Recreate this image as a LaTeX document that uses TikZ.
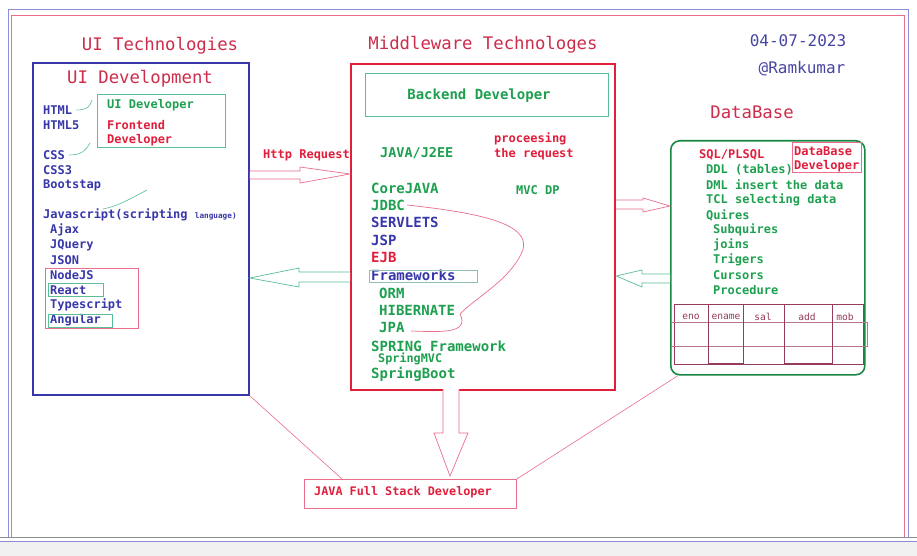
\documentclass[tikz,border=0pt]{standalone}
\usepackage{fontspec}
\setmonofont{DejaVu Sans Mono}
\definecolor{cblue}{RGB}{55,55,170}
\definecolor{cdate}{RGB}{70,70,165}
\definecolor{cred}{RGB}{225,30,60}
\definecolor{ctitle}{RGB}{205,45,75}
\definecolor{cgreen}{RGB}{30,160,80}
\definecolor{cpink}{RGB}{235,110,140}
\definecolor{cteal}{RGB}{90,190,150}
\definecolor{cmaroon}{RGB}{150,60,90}
\definecolor{cframe}{RGB}{140,140,215}
\newcommand\myfs[1]{\fontsize{#1}{#1}\selectfont}
\tikzset{
  txt/.style={anchor=west,inner sep=0pt,font=\ttfamily\bfseries\myfs{12}},
  bt/.style={txt,text=cblue},
  gt/.style={txt,text=cgreen},
  rt/.style={txt,text=cred},
  mb/.style={txt,text=cblue,font=\ttfamily\bfseries\myfs{14}},
  mg/.style={txt,text=cgreen,font=\ttfamily\bfseries\myfs{14}},
  mr/.style={txt,text=cred,font=\ttfamily\bfseries\myfs{14}},
  title/.style={inner sep=0pt,text=ctitle,font=\ttfamily\myfs{17.3}},
  boxr/.style={draw,anchor=north west,inner sep=0pt},
  th/.style={inner sep=0pt,text=cmaroon,font=\ttfamily\myfs{9.6}},
}
\begin{document}
\begin{tikzpicture}[x=1pt,y=-1pt]
\useasboundingbox (0,0) rectangle (917,556);
\fill[white] (0,0) rectangle (917,556);
\fill[black!6] (0,541) rectangle (917,556);
\draw[black!45] (0,537) -- (917,537);
\draw[cframe,line width=1.5pt] (0,541.5) -- (917,541.5);
% frame
\draw[cframe,line width=1pt] (8,537) |- (908,10) -- (908,537);
\draw[cpink,line width=0.8pt] (11.5,537) |- (904,15) -- (904,537);

% titles
\node[title] (tui) at (160,46) {UI Technologies};
\node[title] (tmid) at (483,45) {Middleware Technologes};
\node[title] (tdb) at (752,112) {DataBase};
\node[inner sep=0pt,text=cdate,font=\ttfamily\myfs{16}] (date) at (798,41) {04-07-2023};
\node[inner sep=0pt,text=cdate,font=\ttfamily\myfs{16}] (auth) at (802,69) {@Ramkumar};

% UI box
\node[boxr,draw=cblue,line width=1.8pt,minimum width=216pt,minimum height=332pt] (ui) at (32,62) {};
\node[title] (tuid) at (140,79) {UI Development};
\node[boxr,draw=cteal,line width=0.8pt,minimum width=128pt,minimum height=53pt] (uidev) at (97,94) {};
\node[gt] (uidevt) at (107,105) {UI Developer};
\node[rt] (fe1) at (107,125) {Frontend};
\node[rt] (fe2) at (107,140) {Developer};
\node[bt] (html) at (43,110) {HTML};
\node[bt] (html5) at (43,125) {HTML5};
\node[bt] (css) at (43,155) {CSS};
\node[bt] (css3) at (43,170) {CSS3};
\node[bt] (boot) at (43,185) {Bootstap};
\node[bt] (js) at (43,215) {Javascript(scripting \myfs{7.7}language)};
\node[bt] (ajax) at (50,230) {Ajax};
\node[bt] (jq) at (50,245) {JQuery};
\node[bt] (json) at (50,260) {JSON};
\node[bt] (node) at (50,275) {NodeJS};
\node[bt] (react) at (50,290) {React};
\node[bt] (ts) at (50,305) {Typescript};
\node[bt] (ang) at (50,320) {Angular};
\node[boxr,draw=cpink,line width=0.8pt,minimum width=93pt,minimum height=60pt] (fwbox) at (45,268) {};
\node[boxr,draw=cteal,line width=0.8pt,minimum width=55pt,minimum height=13pt] (reactbox) at (48,283) {};
\node[boxr,draw=cteal,line width=0.8pt,minimum width=64pt,minimum height=13pt] (angbox) at (48,314) {};
\draw[cteal,line width=0.6pt] (html.east) ++(4,0) .. controls (88,110) and (90,106) .. (92,100);
\draw[cteal,line width=0.6pt] (css.east) ++(4,0) .. controls (82,155) and (86,150) .. (90,143);
\draw[cteal,line width=0.6pt] (103,209) .. controls (118,206) and (128,200) .. (147,190);

% Middle box
\node[boxr,draw=cred,line width=2.2pt,minimum width=264pt,minimum height=326pt] (mid) at (350,63) {};
\node[boxr,draw=cteal,line width=0.8pt,minimum width=243pt,minimum height=43pt] (bebox) at (365,73) {};
\node[inner sep=0pt,text=cgreen,font=\ttfamily\bfseries\myfs{14}] (bet) at (479,96) {Backend Developer};
\node[txt,text=cgreen,font=\ttfamily\bfseries\myfs{13.5}] (j2ee) at (380,153) {JAVA/J2EE};
\node[rt] (proc1) at (494,139) {proceesing};
\node[rt] (proc2) at (494,154) {the request};
\node[gt] (mvc) at (516,190) {MVC DP};
\node[mg] (core) at (371,188) {CoreJAVA};
\node[mg] (jdbc) at (371,205) {JDBC};
\node[mb] (serv) at (371,222) {SERVLETS};
\node[mb] (jsp) at (371,240) {JSP};
\node[mr] (ejb) at (371,257) {EJB};
\node[mb] (fw) at (371,275) {Frameworks};
\node[boxr,draw=cteal!80!black!60,line width=0.8pt,minimum width=108pt,minimum height=12pt] (fwb) at (369,269.5) {};
\node[mg] (orm) at (379,293) {ORM};
\node[mg] (hib) at (379,310) {HIBERNATE};
\node[mg] (jpa) at (379,327) {JPA};
\node[mg] (spring) at (371,346) {SPRING Framework};
\node[txt,text=cgreen,font=\ttfamily\bfseries\myfs{11.8}] (smvc) at (378,359) {SpringMVC};
\node[mg] (sboot) at (371,374) {SpringBoot};
\draw[cpink,line width=0.7pt] (jdbc.east) ++(2,0) .. controls (470,212) and (535,222) .. (522,252)
  .. controls (510,280) and (475,298) .. (460,314)
  .. controls (470,334) and (440,332) .. (411,331);

% DB box
\node[boxr,draw=cgreen!85!black,line width=1.6pt,rounded corners=9pt,minimum width=194pt,minimum height=234pt] (db) at (670,140) {};
\node[boxr,draw=cpink,line width=0.8pt,minimum width=69pt,minimum height=30pt] (dbdevb) at (792,142) {};
\node[rt] (dbd1) at (794,151) {DataBase};
\node[rt] (dbd2) at (794,166) {Developer};
\node[rt] (sql) at (699,155) {SQL/PLSQL};
\node[gt] (ddl) at (706,170) {DDL (tables)};
\node[gt] (dml) at (706,185) {DML insert the data};
\node[gt] (tcl) at (706,200) {TCL selecting data};
\node[gt] (qu) at (706,215) {Quires};
\node[gt] (sub) at (713,230) {Subquires};
\node[gt] (joins) at (713,245) {joins};
\node[gt] (trig) at (713,260) {Trigers};
\node[gt] (curs) at (713,275) {Cursors};
\node[gt] (proc) at (713,290) {Procedure};
% table
\begin{scope}[cmaroon,line width=0.6pt]
\draw (674,304) rectangle (863,364);
\draw[cmaroon!70] (671,322) rectangle (867,346);
\draw (708,304) rectangle (743,363);
\draw (784,304) rectangle (832,363);
\draw (832,304) -- (832,364);
\end{scope}
\node[th] (eno) at (691,317) {eno};
\node[th] (ename) at (726,317) {ename};
\node[th] (sal) at (763,317) {sal};
\node[th] (add) at (807,317) {add};
\node[th] (mob) at (845,317) {mob};

% hollow arrows
\node[rt] (http) at (263,155) {Http Request};
\draw[cpink,line width=0.7pt,fill=white] (ui.east |- 0,171) -- (300,171) -- (300,167) -- (mid.west |- 0,174) -- (300,183) -- (300,179) -- (ui.east |- 0,179);
\draw[cteal,line width=0.7pt,fill=white] (mid.west |- 0,272) -- (299,272) -- (299,268) -- (ui.east |- 0,278) -- (299,287) -- (299,282) -- (mid.west |- 0,282);
\draw[cpink,line width=0.7pt,fill=white] (mid.east |- 0,200) -- (643,200) -- (643,198) -- (db.west |- 0,206) -- (643,212) -- (643,209) -- (mid.east |- 0,209);
\draw[cteal,line width=0.7pt,fill=white] (db.west |- 0,274) -- (642,274) -- (642,270) -- (mid.east |- 0,276) -- (642,287) -- (642,283) -- (db.west |- 0,283);

% full stack
\node[boxr,draw=cpink,line width=0.8pt,minimum width=212pt,minimum height=29pt] (fs) at (304,479) {};
\node[txt,text=cred,font=\ttfamily\bfseries\myfs{11.8}] (fst) at (314,492) {JAVA Full Stack Developer};
\draw[cpink,line width=0.7pt,fill=white] (443,389) -- (443,433) -- (434,433) -- (450,476) -- (468,433) -- (459,433) -- (459,389);
\draw[cpink,line width=0.6pt] (ui.south east) -- ([xshift=38pt]fs.north west);
\draw[cpink,line width=0.6pt] ([xshift=8pt]db.south west) -- (fs.north east);
\end{tikzpicture}
\end{document}
